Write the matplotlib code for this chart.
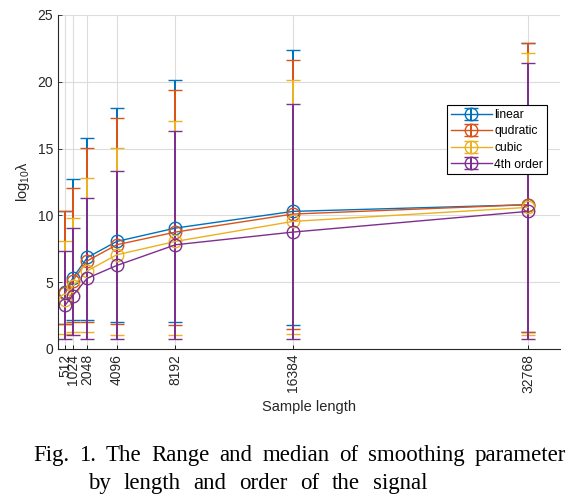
import matplotlib.pyplot as plt

# sample lengths (x) and median log10(lambda) per polynomial order
lengths = [512, 1024, 2048, 4096, 8192, 16384, 32768]
series_names = ['linear', 'qudratic', 'cubic', '4th order']

med_linear = [4.25, 5.3, 6.85, 8.05, 9.05, 10.3, 10.8]
med_quad = [4.2, 5.1, 6.6, 7.8, 8.75, 10.1, 10.8]
med_cubic = [3.65, 4.7, 5.85, 7.05, 8.05, 9.55, 10.6]
med_4th = [3.3, 4.0, 5.3, 6.25, 7.8, 8.75, 10.3]

# range: min and max
min_linear = [1.85, 2.2, 2.2, 2.0, 2.0, 1.8, 1.25]
max_linear = [10.35, 12.75, 15.8, 18.05, 20.1, 22.35, 22.9]
min_quad = [1.85, 2.0, 2.0, 1.85, 1.8, 1.5, 1.25]
max_quad = [10.35, 12.05, 15.05, 17.3, 19.35, 21.6, 22.9]
min_cubic = [1.1, 1.3, 1.25, 1.05, 1.05, 1.15, 1.05]
max_cubic = [8.1, 9.8, 12.8, 15.05, 17.05, 20.1, 22.15]
min_4th = [0.75, 1.05, 0.75, 0.75, 0.75, 0.75, 0.75]
max_4th = [7.3, 9.05, 11.3, 13.3, 16.3, 18.35, 21.4]

caption_1 = 'Fig. 1. The Range and median of smoothing parameter'
caption_2 = 'by length and order of the signal'

colors = ['#0072BD', '#D95319', '#EDB120', '#7E2F8E']

meds = [med_linear, med_quad, med_cubic, med_4th]
mins = [min_linear, min_quad, min_cubic, min_4th]
maxs = [max_linear, max_quad, max_cubic, max_4th]

plt.rcParams['font.family'] = 'Liberation Sans'

fig = plt.figure(figsize=(5.83, 4.96), dpi=100)
ax = fig.add_axes([0.0995, 0.2964, 0.861, 0.6734])

for name, med, lo, hi, c in zip(series_names, meds, mins, maxs, colors):
    yerr = [[m - l for m, l in zip(med, lo)], [h - m for m, h in zip(med, hi)]]
    cont = ax.errorbar(lengths, med, yerr=yerr, color=c, marker='o', markersize=9,
                       mfc='none', mec=c, lw=1, elinewidth=1.1, capsize=5,
                       capthick=1, label=name)
    for bl in cont[2]:
        bl.set_antialiased(False)

ax.set_xlim(0, 35000)
ax.set_ylim(0, 25)
ax.set_xticks(lengths)
ax.set_xticklabels([str(v) for v in lengths], rotation=90, fontsize=10, color='#262626')
ax.set_yticks([0, 5, 10, 15, 20, 25])
ax.tick_params(axis='y', labelsize=10, colors='#262626')
ax.tick_params(direction='in', length=3, width=0.6)
ax.grid(True, color='#dcdcdc', lw=0.8)
ax.set_axisbelow(True)
for s in ['top', 'right']:
    ax.spines[s].set_visible(False)
for s in ['left', 'bottom']:
    ax.spines[s].set_color('#262626')
    ax.spines[s].set_linewidth(0.8)

ax.set_xlabel('Sample length', fontsize=10.5, color='#262626', labelpad=5)
ax.set_ylabel(r'$\mathregular{log_{10}\lambda}$', fontsize=10.5, color='#262626')

leg = ax.legend(loc='upper left', bbox_to_anchor=(0.775, 0.73), fontsize=8.7,
                fancybox=False, framealpha=1, edgecolor='black',
                borderpad=0.3, labelspacing=0.38, handlelength=3.4,
                handletextpad=0.2, borderaxespad=0)
leg.get_frame().set_linewidth(0.8)


# caption: words spread out like the justified paper text
def spread_words(line, x0, x1, y, size):
    r = fig.canvas.get_renderer()
    W = fig.bbox.width
    words = line.split(' ')
    items = [fig.text(0, y, w, fontsize=size, family='Liberation Serif',
                      ha='left', va='baseline') for w in words]
    widths = [t.get_window_extent(renderer=r).width / W for t in items]
    gap = (x1 - x0 - sum(widths)) / (len(words) - 1)
    x = x0
    for t, w in zip(items, widths):
        t.set_x(x)
        x += w + gap


spread_words(caption_1, 33 / 583, 566 / 583, 0.071, 16.5)
spread_words(caption_2, 88 / 583, 427 / 583, 0.015, 16.5)

fig.savefig('out.png', dpi=100)
